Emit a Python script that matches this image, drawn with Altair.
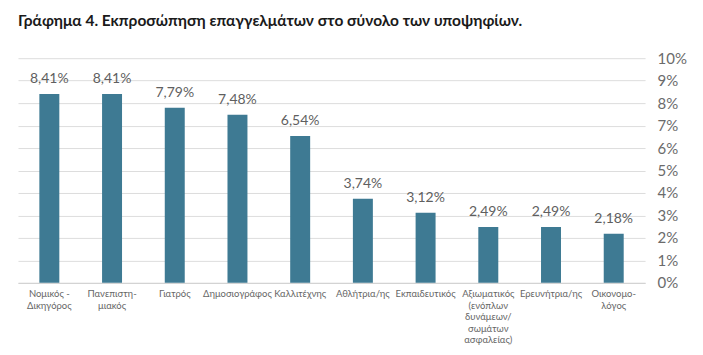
import altair as alt
import pandas as pd

categories = [
    "Νομικός -\nΔικηγόρος",
    "Πανεπιστη-\nμιακός",
    "Γιατρός",
    "Δημοσιογράφος",
    "Καλλιτέχνης",
    "Αθλήτρια/ης",
    "Εκπαιδευτικός",
    "Αξιωματικός\n(ενόπλων\nδυνάμεων/\nσωμάτων\nασφαλείας)",
    "Ερευνήτρια/ης",
    "Οικονομο-\nλόγος",
]
values = [8.41, 8.41, 7.79, 7.48, 6.54, 3.74, 3.12, 2.49, 2.49, 2.18]
y_ticks = [0, 1, 2, 3, 4, 5, 6, 7, 8, 9, 10]

df = pd.DataFrame({"cat": categories, "val": values})

x = alt.X(
    "cat:N",
    sort=None,
    title=None,
    scale=alt.Scale(paddingInner=0.68, paddingOuter=0.34),
    axis=alt.Axis(
        labelAngle=0,
        labelExpr="split(datum.label, '\\n')",
        labelFont="Lato",
        labelFontSize=9.5,
        labelColor="#666666",
        labelPadding=6,
        labelLineHeight=11.5,
        labelLimit=0,
        ticks=False,
        domainColor="#d0d0d0",
        labelBaseline="top",
    ),
)
y = alt.Y(
    "val:Q",
    title=None,
    scale=alt.Scale(domain=[0, 10], nice=False),
    axis=alt.Axis(
        orient="right",
        values=y_ticks,
        labelExpr="datum.value + '%'",
        labelFont="Lato",
        labelFontSize=15,
        labelColor="#6b6b6b",
        labelPadding=12,
        ticks=False,
        domain=False,
        gridColor="#dddddd",
    ),
)

bars = alt.Chart(df).mark_bar(color="#3e7a93", size=20).encode(x=x, y=y)
text = (
    alt.Chart(df)
    .transform_calculate(lbl="replace(format(datum.val, '.2f'), '.', ',') + '%'")
    .mark_text(dy=-8, baseline="bottom", font="Lato", fontSize=14, color="#5f5f5f")
    .encode(x=x, y=y, text="lbl:N")
)

chart = (
    (bars + text)
    .properties(
        width=628,
        height=225,
        autosize=alt.AutoSizeParams(type="none"),
        padding={"left": 10, "top": 50, "right": 50, "bottom": 70},
        title=alt.TitleParams(
            "Γράφημα 4. Εκπροσώπηση επαγγελμάτων στο σύνολο των υποψηφίων.",
            anchor="start",
            font="Lato",
            fontSize=15.5,
            fontWeight="bold",
            color="#1a1a1a",
            offset=22,
        ),
    )
    .configure_view(stroke=None)
    .configure_axisX(grid=False)
)

chart.save("out.html", embed_options={"renderer": "svg", "actions": False})
